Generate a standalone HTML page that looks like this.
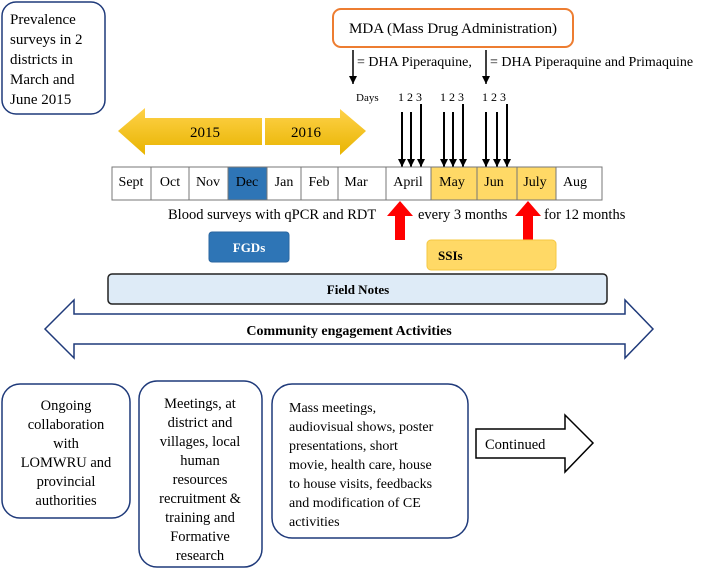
<!DOCTYPE html>
<html><head><meta charset="utf-8"><style>
body{margin:0;background:#fff}
svg{display:block;font-family:"Liberation Serif",serif}
</style></head><body>
<svg width="710" height="570" viewBox="0 0 710 570" xmlns="http://www.w3.org/2000/svg">
<defs>
<marker id="ah" markerWidth="8" markerHeight="8" refX="8" refY="4" orient="auto" markerUnits="userSpaceOnUse"><path d="M0,0 L8,4 L0,8 Z" fill="#000"/></marker>
<linearGradient id="gold" x1="0" y1="0" x2="0" y2="1"><stop offset="0" stop-color="#ffd24a"/><stop offset="1" stop-color="#e8b400"/></linearGradient>
</defs>
<!-- prevalence box -->
<rect x="2" y="2" width="103" height="112" rx="14" fill="#fff" stroke="#1f3a7a" stroke-width="1.5"/>
<text font-size="15" fill="#000"><tspan x="10" y="24">Prevalence</tspan><tspan x="10" y="44">surveys in 2</tspan><tspan x="10" y="64">districts in</tspan><tspan x="10" y="84">March and</tspan><tspan x="10" y="104">June 2015</tspan></text>
<!-- MDA -->
<rect x="333" y="9" width="240" height="38" rx="8" fill="#fff" stroke="#ed7d31" stroke-width="2"/>
<text x="453" y="33" font-size="15" text-anchor="middle">MDA (Mass Drug Administration)</text>
<line x1="353" y1="50" x2="353" y2="84" stroke="#000" stroke-width="1.5" marker-end="url(#ah)"/>
<line x1="486" y1="50" x2="486" y2="84" stroke="#000" stroke-width="1.5" marker-end="url(#ah)"/>
<text x="357" y="66" font-size="14">= DHA Piperaquine,</text>
<text x="490" y="66" font-size="14">= DHA Piperaquine and Primaquine</text>
<text x="356" y="101" font-size="11">Days</text>
<text font-size="12"><tspan x="398" y="101">1 2 3</tspan><tspan x="440" y="101">1 2 3</tspan><tspan x="482" y="101">1 2 3</tspan></text>
<g stroke="#000" stroke-width="2">
<line x1="402" y1="112" x2="402" y2="167" marker-end="url(#ah)"/>
<line x1="411" y1="112" x2="411" y2="167" marker-end="url(#ah)"/>
<line x1="421" y1="104" x2="421" y2="167" marker-end="url(#ah)"/>
<line x1="444" y1="112" x2="444" y2="167" marker-end="url(#ah)"/>
<line x1="453" y1="112" x2="453" y2="167" marker-end="url(#ah)"/>
<line x1="463" y1="104" x2="463" y2="167" marker-end="url(#ah)"/>
<line x1="486" y1="112" x2="486" y2="167" marker-end="url(#ah)"/>
<line x1="497" y1="112" x2="497" y2="167" marker-end="url(#ah)"/>
<line x1="507" y1="104" x2="507" y2="167" marker-end="url(#ah)"/>
</g>
<!-- gold arrows -->
<path d="M118,131 L145,108 L145,118 L262,118 L262,145 L145,145 L145,155 Z" fill="url(#gold)"/>
<path d="M265,118 L340,118 L340,109 L366,131 L340,155 L340,145 L265,145 Z" fill="url(#gold)"/>
<text x="205" y="137" font-size="15" text-anchor="middle">2015</text>
<text x="306" y="137" font-size="15" text-anchor="middle">2016</text>
<!-- months -->
<g stroke="#777" stroke-width="1">
<rect x="112" y="167" width="39" height="33" fill="#fff"/>
<rect x="151" y="167" width="38" height="33" fill="#fff"/>
<rect x="189" y="167" width="39" height="33" fill="#fff"/>
<rect x="228" y="167" width="39" height="33" fill="#2e75b6"/>
<rect x="267" y="167" width="34" height="33" fill="#fff"/>
<rect x="301" y="167" width="37" height="33" fill="#fff"/>
<rect x="338" y="167" width="48" height="33" fill="#fff"/>
<rect x="386" y="167" width="45" height="33" fill="#fff"/>
<rect x="431" y="167" width="46" height="33" fill="#ffd966"/>
<rect x="477" y="167" width="40" height="33" fill="#ffd966"/>
<rect x="517" y="167" width="39" height="33" fill="#ffd966"/>
<rect x="556" y="167" width="46" height="33" fill="#fff"/>
</g>
<text font-size="14" y="186" text-anchor="middle"><tspan x="131">Sept</tspan><tspan x="170">Oct</tspan><tspan x="208">Nov</tspan><tspan x="247">Dec</tspan><tspan x="284">Jan</tspan><tspan x="319">Feb</tspan><tspan x="356">Mar</tspan><tspan x="408">April</tspan><tspan x="452">May</tspan><tspan x="494">Jun</tspan><tspan x="535">July</tspan><tspan x="575">Aug</tspan></text>
<!-- blood surveys -->
<text x="168" y="219" font-size="14.5">Blood surveys with qPCR and RDT</text>
<text x="418" y="219" font-size="14.5">every 3 months</text>
<text x="544" y="219" font-size="14.5">for 12 months</text>
<path d="M400,201 L413,216 L405,216 L405,240 L395,240 L395,216 L387,216 Z" fill="#f00"/>
<path d="M528,201 L541,216 L533,216 L533,240 L523,240 L523,216 L515,216 Z" fill="#f00"/>
<!-- FGDs / SSIs -->
<rect x="209" y="232" width="80" height="30" rx="3" fill="#2e75b6" stroke="#2a66a0"/>
<text x="249" y="252" font-size="13" font-weight="bold" fill="#fff" text-anchor="middle">FGDs</text>
<rect x="427" y="240" width="129" height="30" rx="4" fill="#ffd966" stroke="#f5c842"/>
<text x="438" y="260" font-size="13" font-weight="bold">SSIs</text>
<!-- field notes -->
<rect x="108" y="274" width="499" height="30" rx="4" fill="#deebf7" stroke="#222" stroke-width="1.5"/>
<text x="358" y="294" font-size="13" font-weight="bold" text-anchor="middle">Field Notes</text>
<!-- community arrow -->
<path d="M45,329 L74,300 L74,314 L625,314 L625,300 L653,329 L625,358 L625,344 L74,344 L74,358 Z" fill="#fff" stroke="#1f3a7a" stroke-width="1.5"/>
<text x="349" y="335" font-size="14" font-weight="bold" text-anchor="middle">Community engagement Activities</text>
<!-- bottom boxes -->
<rect x="2" y="384" width="128" height="134" rx="18" fill="#fff" stroke="#1f3a7a" stroke-width="1.5"/>
<text font-size="14.5" text-anchor="middle"><tspan x="66" y="410">Ongoing</tspan><tspan x="66" y="429">collaboration</tspan><tspan x="66" y="448">with</tspan><tspan x="66" y="467">LOMWRU and</tspan><tspan x="66" y="486">provincial</tspan><tspan x="66" y="505">authorities</tspan></text>
<rect x="139" y="381" width="123" height="186" rx="18" fill="#fff" stroke="#1f3a7a" stroke-width="1.5"/>
<text font-size="14.5" text-anchor="middle"><tspan x="200" y="408">Meetings, at</tspan><tspan x="200" y="427">district and</tspan><tspan x="200" y="446">villages, local</tspan><tspan x="200" y="465">human</tspan><tspan x="200" y="484">resources</tspan><tspan x="200" y="503">recruitment &amp;</tspan><tspan x="200" y="522">training and</tspan><tspan x="200" y="541">Formative</tspan><tspan x="200" y="560">research</tspan></text>
<rect x="272" y="384" width="196" height="154" rx="20" fill="#fff" stroke="#1f3a7a" stroke-width="1.5"/>
<text font-size="14"><tspan x="289" y="412">Mass meetings,</tspan><tspan x="289" y="431">audiovisual shows, poster</tspan><tspan x="289" y="450">presentations, short</tspan><tspan x="289" y="469">movie, health care, house</tspan><tspan x="289" y="488">to house visits, feedbacks</tspan><tspan x="289" y="507">and modification of CE</tspan><tspan x="289" y="526">activities</tspan></text>
<path d="M476,429 L565,429 L565,415 L593,443 L565,472 L565,458 L476,458 Z" fill="#fff" stroke="#000" stroke-width="1.5"/>
<text x="485" y="449" font-size="14.5">Continued</text>
</svg>
</body></html>
